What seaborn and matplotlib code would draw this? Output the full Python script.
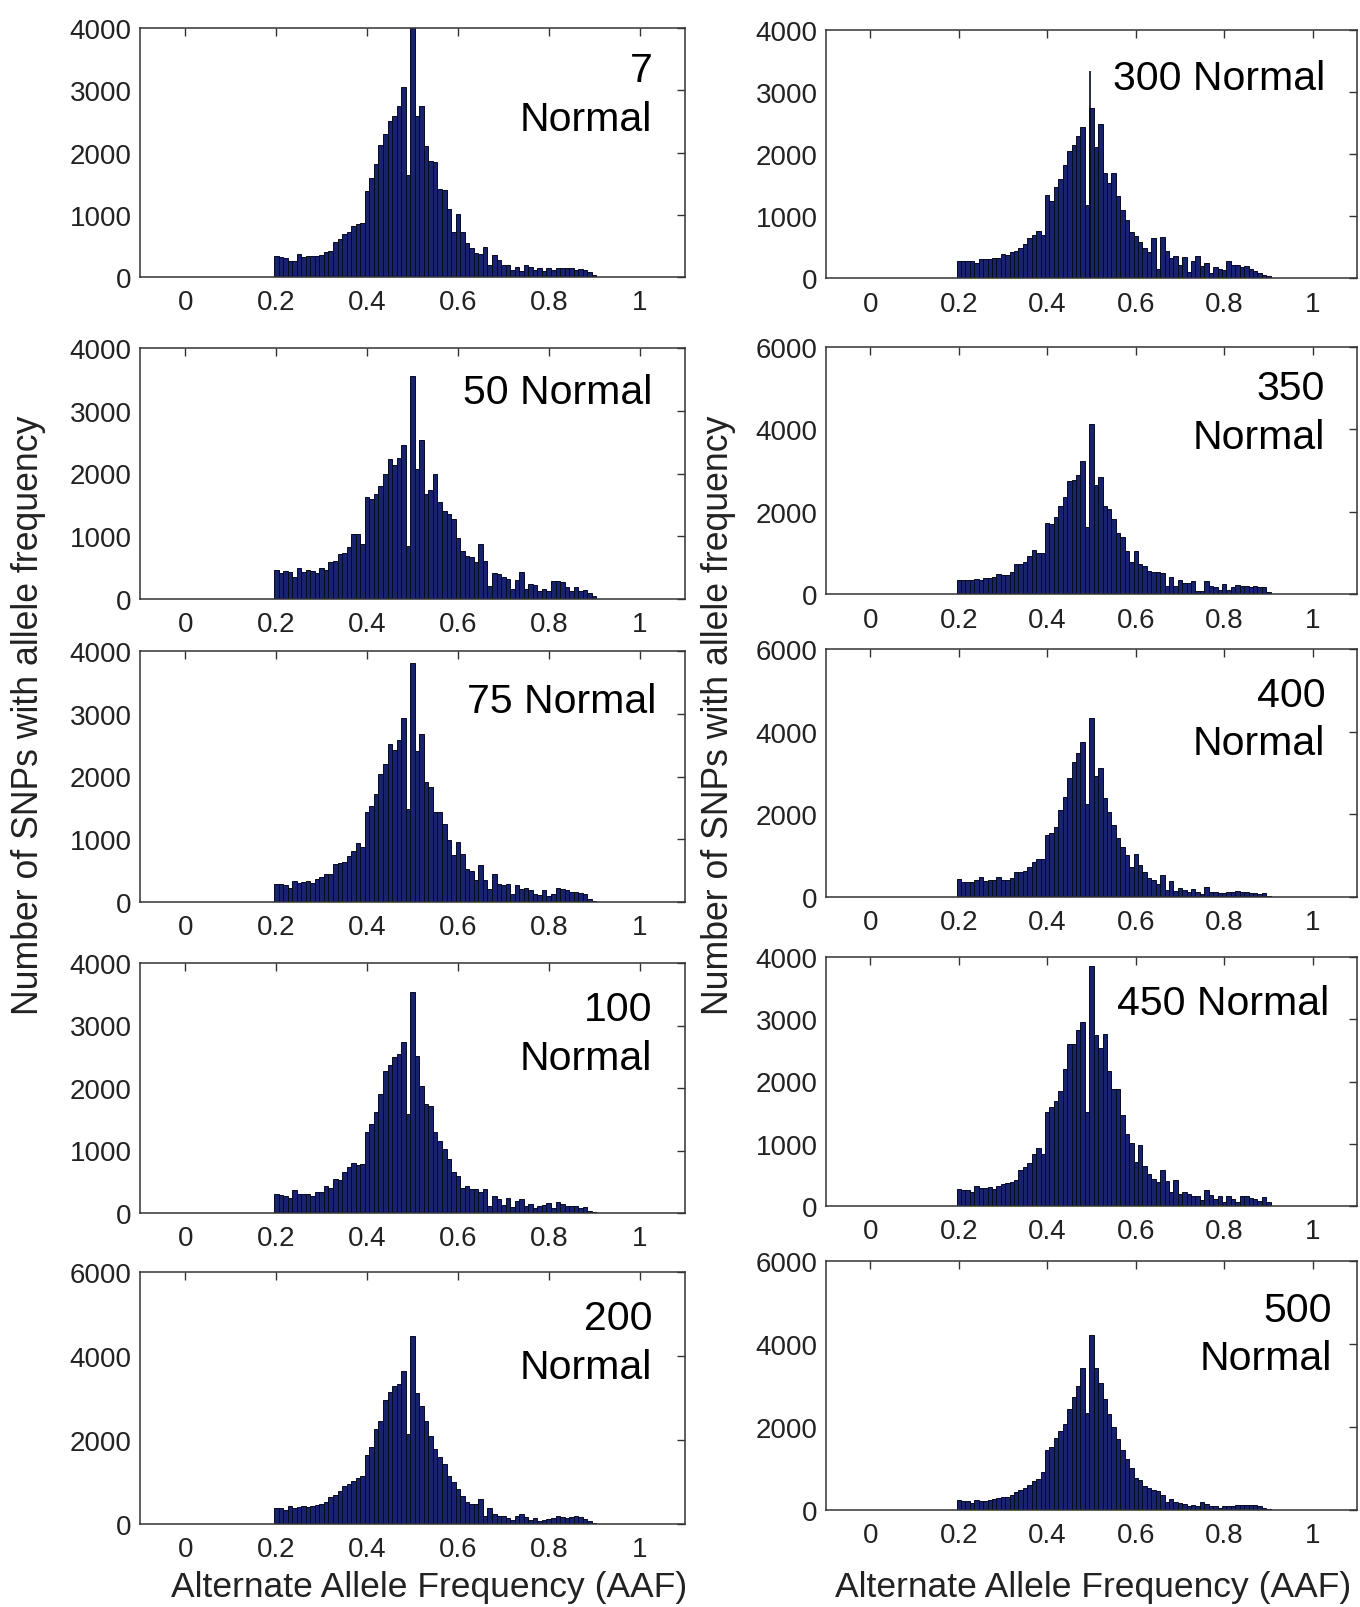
import numpy as np
import pandas as pd
import matplotlib
matplotlib.use("Agg")
import matplotlib.pyplot as plt
import seaborn as sns

# ---------------- data (bars centred at 0.20, 0.21, ..., 0.90) ----------------
bin_centers = np.round(0.20 + 0.01 * np.arange(71), 3)
bin_edges = [round(0.195 + 0.01 * i, 3) for i in range(72)]

counts_7 = [336, 325, 304, 256, 256, 368, 315, 336, 336, 340, 357, 400, 421, 560, 603, 693, 720, 826, 853, 860,
            1383, 1597, 1812, 2117, 2300, 2503, 2589, 2750, 3055, 1640, 4150, 2590, 2745, 2112, 1870, 1844, 1415,
            1400, 1090, 720, 1010, 720, 550, 460, 390, 375, 480, 190, 350, 280, 190, 190, 120, 160, 90, 190, 160,
            120, 150, 90, 150, 120, 140, 140, 150, 140, 120, 130, 110, 80, 30]
counts_50 = [463, 410, 450, 435, 350, 495, 435, 460, 440, 410, 495, 465, 585, 610, 720, 730, 835, 1030, 1030, 880,
             1620, 1600, 1680, 1800, 1990, 2230, 2130, 2250, 2450, 850, 3550, 2075, 2530, 1680, 1730, 1990, 1540,
             1410, 1360, 1280, 980, 770, 690, 665, 585, 880, 610, 210, 410, 400, 346, 320, 160, 308, 436, 160, 240,
             229, 133, 160, 122, 293, 282, 271, 186, 133, 197, 122, 150, 100, 40]
counts_75 = [281, 281, 265, 230, 335, 300, 320, 330, 310, 370, 400, 440, 450, 610, 620, 640, 740, 820, 940, 876,
             1434, 1524, 1726, 2044, 2200, 2522, 2416, 2586, 2936, 1487, 3807, 2405, 2681, 1912, 1832, 1434, 1434,
             1248, 982, 743, 956, 770, 531, 494, 345, 584, 345, 212, 451, 292, 265, 281, 133, 265, 200, 228, 186,
             133, 106, 196, 90, 133, 228, 212, 186, 154, 160, 144, 133, 53, 20]
counts_100 = [304, 290, 280, 235, 373, 310, 305, 305, 270, 330, 335, 437, 394, 544, 530, 660, 730, 800, 768, 780,
              1290, 1423, 1610, 1903, 2276, 2366, 2489, 2550, 2740, 1583, 3539, 2516, 2036, 1743, 1716, 1290, 1157,
              1023, 863, 650, 597, 394, 437, 384, 384, 330, 384, 117, 266, 224, 128, 235, 90, 192, 224, 117, 144,
              75, 117, 128, 160, 75, 170, 144, 117, 117, 107, 75, 90, 37, 20]
counts_200 = [373, 373, 341, 420, 380, 395, 420, 395, 437, 450, 470, 516, 635, 690, 794, 913, 953, 1032, 1100, 1150,
              1643, 1826, 2263, 2461, 2962, 3136, 3279, 3335, 3652, 2144, 4486, 3120, 2819, 2461, 2104, 1787, 1588,
              1429, 1151, 993, 834, 675, 516, 476, 476, 596, 198, 373, 238, 198, 198, 135, 103, 198, 238, 160, 103,
              135, 80, 103, 120, 135, 183, 160, 135, 160, 183, 160, 120, 60, 20]
counts_300 = [278, 278, 278, 278, 250, 300, 304, 304, 330, 330, 390, 370, 427, 440, 480, 545, 641, 690, 764, 700,
              1346, 1239, 1469, 1600, 1816, 2056, 2147, 2286, 2430, 1180, 2734, 2120, 2483, 1698, 1538, 1698, 1319,
              1095, 935, 748, 684, 587, 490, 417, 650, 140, 668, 430, 320, 347, 214, 331, 96, 278, 347, 187, 235,
              80, 171, 150, 128, 278, 214, 203, 171, 187, 150, 107, 80, 53, 30]
spike_300 = 3340
counts_350 = [340, 340, 340, 350, 360, 350, 380, 380, 405, 486, 450, 470, 527, 729, 729, 770, 932, 1070, 990, 1000,
              1725, 1700, 1863, 2147, 2349, 2754, 2770, 2892, 3224, 1636, 4131, 2657, 2851, 2147, 2065, 1823, 1474,
              1393, 1053, 770, 1053, 729, 689, 567, 527, 527, 502, 203, 405, 203, 340, 259, 259, 324, 81, 81, 308,
              200, 162, 97, 243, 97, 162, 227, 200, 194, 178, 200, 162, 178, 60]
counts_400 = [427, 371, 371, 371, 400, 476, 380, 420, 400, 476, 410, 420, 451, 613, 613, 630, 733, 854, 911, 911,
              1499, 1539, 1700, 2104, 2426, 2869, 3272, 3474, 3740, 2241, 4336, 2934, 3111, 2402, 2063, 1741, 1435,
              1217, 1016, 733, 1032, 774, 613, 451, 411, 306, 532, 169, 387, 145, 210, 169, 129, 194, 113, 64, 250,
              113, 129, 89, 105, 129, 113, 145, 129, 113, 89, 89, 64, 89, 32]
counts_450 = [277, 254, 260, 231, 318, 290, 290, 300, 277, 318, 358, 370, 393, 416, 578, 624, 694, 838, 936, 838,
              1503, 1590, 1688, 1850, 2208, 2601, 2601, 2832, 2960, 1503, 3855, 2746, 2532, 2763, 2168, 1879, 1879,
              1462, 1156, 1012, 705, 983, 636, 509, 434, 393, 578, 405, 231, 416, 185, 231, 200, 162, 162, 104, 260,
              173, 116, 162, 69, 162, 116, 69, 162, 162, 127, 116, 87, 150, 60]
counts_500 = [232, 215, 206, 172, 232, 215, 215, 232, 258, 292, 318, 318, 361, 430, 490, 533, 602, 705, 748, 920,
              1436, 1522, 1737, 1909, 2081, 2425, 2726, 2984, 3414, 2339, 4214, 3414, 3070, 2666, 2322, 1995, 1720,
              1436, 1221, 1006, 774, 722, 576, 533, 490, 447, 361, 189, 258, 189, 172, 146, 103, 120, 86, 189, 146,
              103, 86, 60, 103, 86, 103, 120, 120, 120, 120, 120, 103, 60, 20]

labels = ["7\nNormal", "50 Normal", "75 Normal", "100\nNormal", "200\nNormal",
          "300 Normal", "350\nNormal", "400\nNormal", "450 Normal", "500\nNormal"]
all_counts = [counts_7, counts_50, counts_75, counts_100, counts_200,
              counts_300, counts_350, counts_400, counts_450, counts_500]
y_tops = [4000, 4000, 4000, 4000, 6000, 4000, 6000, 6000, 4000, 6000]
x_ticks = [0, 0.2, 0.4, 0.6, 0.8, 1]
x_ticklabels = ["0", "0.2", "0.4", "0.6", "0.8", "1"]
ylabel_text = "Number of SNPs with allele frequency"
xlabel_text = "Alternate Allele Frequency (AAF)"

# ---------------- layout (pixels) ----------------
W, H = 1360, 1608
left_col = (140, 685)
right_col = (826, 1357)
left_rows = [(29, 278), (349, 600), (652, 903), (964, 1214), (1273, 1525)]
right_rows = [(31, 279), (348, 595), (650, 898), (958, 1207), (1262, 1511)]
label_pos = [0.268, 0.175, 0.20, 0.281, 0.28, 0.194, 0.265, 0.283, 0.185, 0.293]
label_right = [0.94, 0.94, 0.948, 0.94, 0.94, 0.94, 0.94, 0.94, 0.947, 0.953]

sns.set_theme(style="white")
plt.rcParams["font.family"] = ["Liberation Sans", "DejaVu Sans"]

fig = plt.figure(figsize=(W / 100, H / 100), dpi=100)
bar_face = "#17236e"
bar_edge = "#070920"
text_col = "#222222"

for i in range(10):
    col = left_col if i < 5 else right_col
    top, bot = (left_rows if i < 5 else right_rows)[i % 5]
    ax = fig.add_axes([col[0] / W, 1 - bot / H, (col[1] - col[0]) / W, (bot - top) / H])
    df = pd.DataFrame({"aaf": bin_centers, "n": all_counts[i]})
    sns.histplot(data=df, x="aaf", weights="n", bins=bin_edges, ax=ax,
                 color=bar_face, edgecolor=bar_edge, linewidth=0.7, alpha=1.0)
    if i == 5:
        ax.vlines(0.496, 0, spike_300, color=bar_edge, linewidth=1.2)
    ax.set_xlim(-0.1, 1.1)
    ax.set_ylim(0, y_tops[i])
    step = 1000 if y_tops[i] == 4000 else 2000
    ax.set_yticks(np.arange(0, y_tops[i] + 1, step))
    ax.set_yticklabels([str(v) for v in np.arange(0, y_tops[i] + 1, step)])
    ax.set_xticks(x_ticks)
    ax.set_xticklabels(x_ticklabels)
    ax.set_xlabel("")
    ax.set_ylabel("")
    ax.tick_params(direction="in", length=6, width=1, top=True, right=True,
                   labelsize=20, colors="#333333", labelcolor=text_col)
    ax.tick_params(axis="x", pad=9)
    ax.tick_params(axis="y", pad=6)
    for sp in ax.spines.values():
        sp.set_color("#333333")
        sp.set_linewidth(1.1)
    ax.text(label_right[i], 1 - label_pos[i], labels[i], transform=ax.transAxes,
            ha="right", va="center", multialignment="right",
            fontsize=29.5, color="black", linespacing=1.35)

fig.text(29 / W, 1 - 715 / H, ylabel_text, rotation=90, ha="center", va="center",
         fontsize=25.7, color=text_col)
fig.text(718 / W, 1 - 715 / H, ylabel_text, rotation=90, ha="center", va="center",
         fontsize=25.7, color=text_col)
fig.text(429 / W, 1 - 1588 / H, xlabel_text, ha="center", va="center",
         fontsize=25.5, color=text_col)
fig.text(1093 / W, 1 - 1588 / H, xlabel_text, ha="center", va="center",
         fontsize=25.5, color=text_col)

fig.savefig("out.png", dpi=100, facecolor="white")
